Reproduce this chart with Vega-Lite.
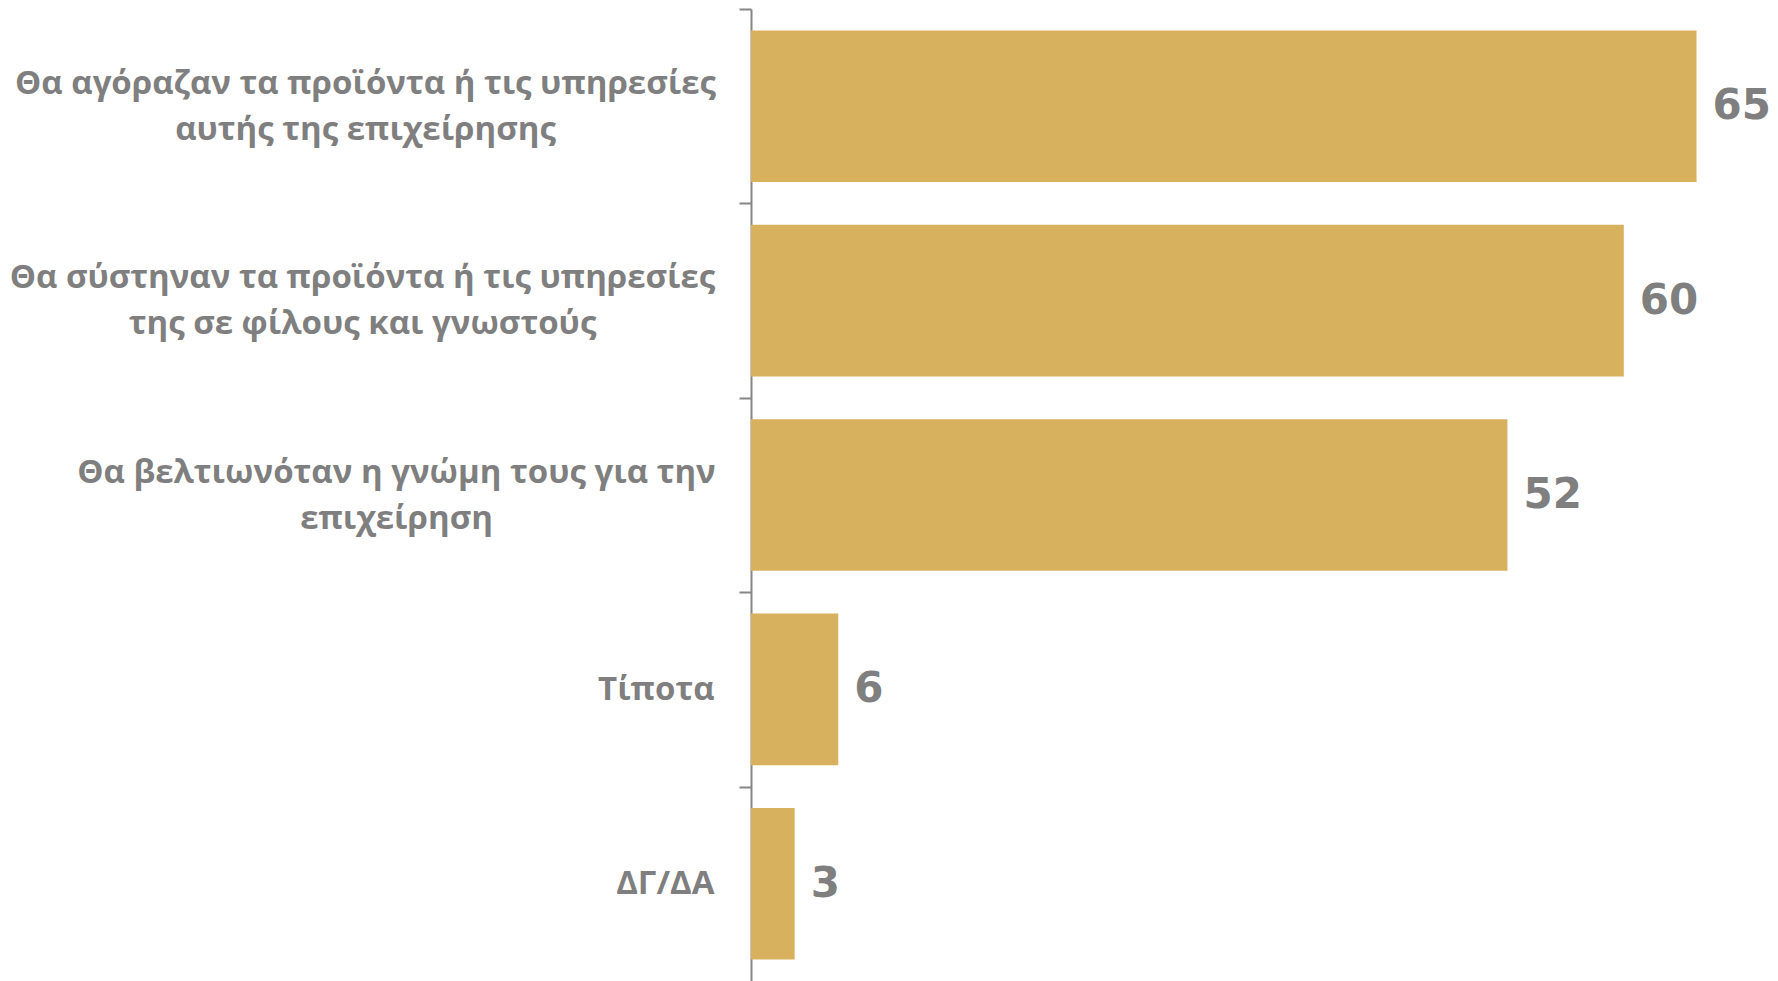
{
  "$schema": "https://vega.github.io/schema/vega-lite/v6.json",
  "autosize": "none",
  "padding": {"left": 751, "top": 9, "right": 0, "bottom": 0},
  "width": 1027,
  "height": 972,
  "background": "white",
  "config": {"view": {"stroke": null}, "font": "Open Sans"},
  "data": {"values": [
    {"label": "Θα αγόραζαν τα προϊόντα ή τις υπηρεσίες|αυτής της επιχείρησης", "value": 65, "order": 1},
    {"label": "Θα σύστηναν τα προϊόντα ή τις υπηρεσίες|της σε φίλους και γνωστούς", "value": 60, "order": 2},
    {"label": "Θα βελτιωνόταν η γνώμη τους για την|επιχείρηση", "value": 52, "order": 3},
    {"label": "Τίποτα", "value": 6, "order": 4},
    {"label": "ΔΓ/ΔΑ", "value": 3, "order": 5}
  ]},
  "encoding": {
    "y": {
      "field": "label", "type": "nominal", "sort": {"field": "order"},
      "scale": {"paddingInner": 0.22, "paddingOuter": 0.11},
      "axis": {
        "title": null,
        "labelExpr": "split(datum.label, '|')",
        "labelFont": "Open Sans", "labelFontWeight": "bold", "labelFontSize": 33,
        "labelColor": "#7f7f7f", "labelLineHeight": 46,
        "labelAlign": {"condition": {"test": "indexof(datum.value, '|') >= 0", "value": "center"}, "value": "right"},
        "labelBaseline": {"condition": {"test": "indexof(datum.value, '|') >= 0", "value": "line-bottom"}, "value": "middle"},
        "labelPadding": {"condition": [
          {"test": "indexof(datum.value, 'αγόραζαν') >= 0", "value": 374},
          {"test": "indexof(datum.value, 'σύστηναν') >= 0", "value": 377},
          {"test": "indexof(datum.value, 'βελτιωνόταν') >= 0", "value": 343}
        ], "value": 25},
        "labelOffset": 97.2,
        "labelLimit": 900,
        "domainColor": "#868686", "domainWidth": 2,
        "tickColor": "#868686", "tickWidth": 2, "tickSize": 12, "tickOffset": -97.2,
        "grid": false
      }
    },
    "x": {
      "field": "value", "type": "quantitative",
      "scale": {"domain": [0, 70.6], "nice": false, "zero": true},
      "axis": null
    }
  },
  "layer": [
    {"mark": {"type": "bar", "color": "#D8B15E"}},
    {"mark": {"type": "text", "align": "left", "baseline": "middle", "dx": 16, "fontSize": 42, "fontWeight": "bold", "color": "#7f7f7f", "font": "DejaVu Sans"},
     "encoding": {"text": {"field": "value", "type": "quantitative"}}}
  ]
}
